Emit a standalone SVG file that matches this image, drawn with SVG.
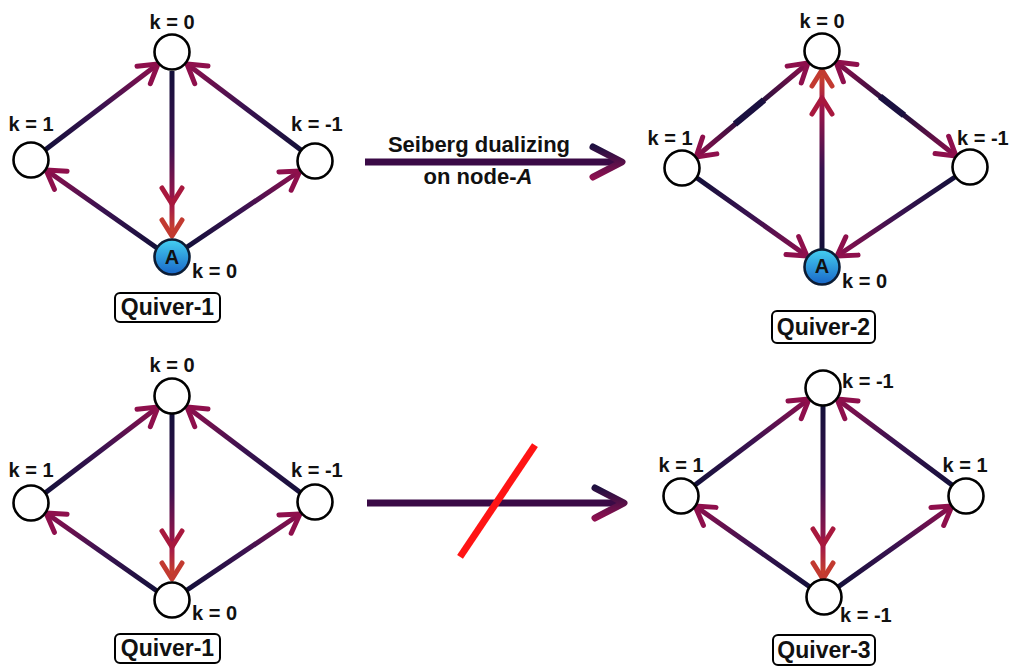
<svg xmlns="http://www.w3.org/2000/svg" width="1013" height="666" viewBox="0 0 1013 666">
  <style>
    .node { fill: #ffffff; stroke: #000000; stroke-width: 2.6; }
    .nodeA { fill: url(#gA); stroke: #0c1c34; stroke-width: 2.6; }
    .edge { fill: none; stroke-width: 5; stroke-linecap: butt; }
    .lbl { font-family: "Liberation Sans", Arial, sans-serif; font-weight: bold; font-size: 20px; fill: #111111; }
    .qname { font-family: "Liberation Sans", Arial, sans-serif; font-weight: bold; font-size: 23px; fill: #111111; text-anchor: middle; }
    .qbox { fill: #ffffff; stroke: #000000; stroke-width: 2; }
    .cap { font-family: "Liberation Sans", Arial, sans-serif; font-weight: bold; font-size: 22px; fill: #111111; text-anchor: middle; }
    .ne { stroke: url(#gNE); }
    .nw { stroke: url(#gNW); }
    .se { stroke: url(#gSE); }
    .sw { stroke: url(#gSW); }
    .one { marker-end: url(#head); }
    .two { marker-mid: url(#headMid); marker-end: url(#headEnd); }
    .both { marker-start: url(#head); marker-end: url(#head); }
  </style>
  <defs>
    <!-- diagonal edge gradients: dark navy at the tail, crimson at the head -->
    <linearGradient id="gNE" x1="0" y1="1" x2="1" y2="0">
      <stop offset="0" stop-color="#14103a"/>
      <stop offset="0.5" stop-color="#3a1250"/>
      <stop offset="1" stop-color="#8e0f4c"/>
    </linearGradient>
    <linearGradient id="gNW" x1="1" y1="1" x2="0" y2="0">
      <stop offset="0" stop-color="#14103a"/>
      <stop offset="0.5" stop-color="#3a1250"/>
      <stop offset="1" stop-color="#8e0f4c"/>
    </linearGradient>
    <linearGradient id="gSE" x1="0" y1="0" x2="1" y2="1">
      <stop offset="0" stop-color="#14103a"/>
      <stop offset="0.5" stop-color="#3a1250"/>
      <stop offset="1" stop-color="#8e0f4c"/>
    </linearGradient>
    <linearGradient id="gSW" x1="1" y1="0" x2="0" y2="1">
      <stop offset="0" stop-color="#14103a"/>
      <stop offset="0.5" stop-color="#3a1250"/>
      <stop offset="1" stop-color="#8e0f4c"/>
    </linearGradient>
    <!-- two-way edges: crimson at both ends, dark in the middle -->
    <linearGradient id="gBothL" x1="1" y1="0" x2="0" y2="1">
      <stop offset="0" stop-color="#8e0f4c"/>
      <stop offset="0.5" stop-color="#14103a"/>
      <stop offset="1" stop-color="#8e0f4c"/>
    </linearGradient>
    <linearGradient id="gBothR" x1="0" y1="0" x2="1" y2="1">
      <stop offset="0" stop-color="#8e0f4c"/>
      <stop offset="0.5" stop-color="#14103a"/>
      <stop offset="1" stop-color="#8e0f4c"/>
    </linearGradient>
    <!-- vertical edges, one gradient per quiver -->
    <linearGradient id="gV1" gradientUnits="userSpaceOnUse" x1="0" y1="71" x2="0" y2="236">
      <stop offset="0" stop-color="#14103a"/>
      <stop offset="0.45" stop-color="#3a1250"/>
      <stop offset="0.8" stop-color="#a0164a"/>
      <stop offset="1" stop-color="#d04a28"/>
    </linearGradient>
    <linearGradient id="gV2" gradientUnits="userSpaceOnUse" x1="0" y1="249" x2="0" y2="70">
      <stop offset="0" stop-color="#14103a"/>
      <stop offset="0.45" stop-color="#3a1250"/>
      <stop offset="0.8" stop-color="#a0164a"/>
      <stop offset="1" stop-color="#d04a28"/>
    </linearGradient>
    <linearGradient id="gV3" gradientUnits="userSpaceOnUse" x1="0" y1="414" x2="0" y2="579">
      <stop offset="0" stop-color="#14103a"/>
      <stop offset="0.45" stop-color="#3a1250"/>
      <stop offset="0.8" stop-color="#a0164a"/>
      <stop offset="1" stop-color="#d04a28"/>
    </linearGradient>
    <linearGradient id="gV4" gradientUnits="userSpaceOnUse" x1="0" y1="406" x2="0" y2="579">
      <stop offset="0" stop-color="#14103a"/>
      <stop offset="0.45" stop-color="#3a1250"/>
      <stop offset="0.8" stop-color="#a0164a"/>
      <stop offset="1" stop-color="#d04a28"/>
    </linearGradient>
    <!-- shaded fill of the dualized node -->
    <linearGradient id="gA" x1="0" y1="0" x2="0" y2="1">
      <stop offset="0" stop-color="#45d0f2"/>
      <stop offset="1" stop-color="#1866c8"/>
    </linearGradient>
    <!-- big transition arrow heads -->
    <linearGradient id="gBig" gradientUnits="userSpaceOnUse" x1="0" y1="146" x2="0" y2="178">
      <stop offset="0" stop-color="#1e1040"/>
      <stop offset="1" stop-color="#8e1050"/>
    </linearGradient>
    <linearGradient id="gBig2" gradientUnits="userSpaceOnUse" x1="0" y1="487" x2="0" y2="519">
      <stop offset="0" stop-color="#1e1040"/>
      <stop offset="1" stop-color="#8e1050"/>
    </linearGradient>
    <!-- open chevron arrowheads -->
    <marker id="head" markerUnits="userSpaceOnUse" viewBox="-22 -14 26 28" refX="0" refY="0" markerWidth="26" markerHeight="28" orient="auto-start-reverse" overflow="visible">
      <path d="M -18 -11 L 0 0 L -18 11" fill="none" stroke="#8e0f4c" stroke-width="5" stroke-linecap="round" stroke-linejoin="round"/>
    </marker>
    <marker id="headMid" markerUnits="userSpaceOnUse" viewBox="-22 -14 26 28" refX="0" refY="0" markerWidth="26" markerHeight="28" orient="auto" overflow="visible">
      <path d="M -16 -10 L 0 0 L -16 10" fill="none" stroke="#a8183e" stroke-width="5" stroke-linecap="round" stroke-linejoin="round"/>
    </marker>
    <marker id="headEnd" markerUnits="userSpaceOnUse" viewBox="-22 -14 26 28" refX="0" refY="0" markerWidth="26" markerHeight="28" orient="auto" overflow="visible">
      <path d="M -16 -10 L 0 0 L -16 10" fill="none" stroke="#c23a30" stroke-width="5" stroke-linecap="round" stroke-linejoin="round"/>
    </marker>
  </defs>

  <rect width="1013" height="666" fill="#ffffff"/>

  <!-- connectors -->
  <g id="connectors">
    <!-- quiver 1 (top left) -->
    <path class="edge ne one" d="M 45 150 L 158 64"/>
    <path class="edge nw one" d="M 301 150 L 187 64"/>
    <path class="edge two" stroke="url(#gV1)" d="M 172 71 L 172 204 L 172 236"/>
    <path class="edge nw one" d="M 157 248 L 46 170"/>
    <path class="edge ne one" d="M 187 247 L 300 171"/>

    <!-- quiver 2 (top right) -->
    <path class="edge both" stroke="url(#gBothL)" d="M 808 63 L 696 157"/>
    <path d="M 764 100 L 735 124" stroke="#1a1040" stroke-width="6.5"/>
    <path class="edge both" stroke="url(#gBothR)" d="M 836 62 L 956 156"/>
    <path d="M 880 96.5 L 904 115.3" stroke="#1a1040" stroke-width="6.5"/>
    <path class="edge two" stroke="url(#gV2)" d="M 822 249 L 822 98 L 822 70"/>
    <path class="edge se one" d="M 697 178 L 807 256"/>
    <path class="edge sw one" d="M 955 177 L 837 256"/>

    <!-- quiver 1 (bottom left) -->
    <path class="edge ne one" d="M 45 493 L 158 407"/>
    <path class="edge nw one" d="M 301 493 L 187 407"/>
    <path class="edge two" stroke="url(#gV3)" d="M 172 414 L 172 547 L 172 579"/>
    <path class="edge nw one" d="M 157 591 L 46 513"/>
    <path class="edge ne one" d="M 187 590 L 300 514"/>

    <!-- quiver 3 (bottom right) -->
    <path class="edge ne one" d="M 695 485 L 809 399"/>
    <path class="edge nw one" d="M 952 485 L 837 399"/>
    <path class="edge two" stroke="url(#gV4)" d="M 823 406 L 823 545 L 823 579"/>
    <path class="edge nw one" d="M 810 587 L 695 506"/>
    <path class="edge ne one" d="M 838 587 L 952 506"/>

    <!-- transition arrows -->
    <path d="M 365 162 L 618 162" stroke="#3a0a46" stroke-width="7"/>
    <path d="M 593 147 L 622 162 L 593 177" fill="none" stroke="url(#gBig)" stroke-width="7" stroke-linecap="round" stroke-linejoin="round"/>
    <path d="M 367 503 L 620 503" stroke="#3a0a46" stroke-width="7"/>
    <path d="M 595 488 L 624 503 L 595 518" fill="none" stroke="url(#gBig2)" stroke-width="7" stroke-linecap="round" stroke-linejoin="round"/>
    <path d="M 533 448 L 462 554" stroke="#ff1414" stroke-width="7" stroke-linecap="square"/>
  </g>

  <!-- transition caption -->
  <g id="caption">
    <text class="cap" x="479" y="152">Seiberg dualizing</text>
    <text class="cap" x="478" y="184">on node-<tspan font-style="italic">A</tspan></text>
  </g>

  <!-- quiver 1, top -->
  <g id="q1-top">
    <g id="q1-n-top"><circle class="node" cx="172" cy="52" r="17.5"/><text class="lbl" x="172" y="29" text-anchor="middle">k = 0</text></g>
    <g id="q1-n-left"><circle class="node" cx="31" cy="160" r="17.5"/><text class="lbl" x="31" y="131" text-anchor="middle">k = 1</text></g>
    <g id="q1-n-right"><circle class="node" cx="315" cy="161" r="17.5"/><text class="lbl" x="291" y="131">k = -1</text></g>
    <g id="q1-n-A"><circle class="nodeA" cx="172" cy="257" r="17.5"/><text class="lbl" x="172" y="264" text-anchor="middle" fill="#14204a" font-size="18">A</text><text class="lbl" x="192" y="278">k = 0</text></g>
    <g id="q1-name"><rect class="qbox" x="115" y="293" width="105" height="29" rx="5"/><text class="qname" x="167.5" y="315">Quiver-1</text></g>
  </g>

  <!-- quiver 2, top -->
  <g id="q2">
    <g id="q2-n-top"><circle class="node" cx="822" cy="51" r="17.5"/><text class="lbl" x="822" y="28" text-anchor="middle">k = 0</text></g>
    <g id="q2-n-left"><circle class="node" cx="682" cy="168" r="17.5"/><text class="lbl" x="670" y="145" text-anchor="middle">k = 1</text></g>
    <g id="q2-n-right"><circle class="node" cx="970" cy="167" r="17.5"/><text class="lbl" x="957" y="145">k = -1</text></g>
    <g id="q2-n-A"><circle class="nodeA" cx="822" cy="267" r="17.5"/><text class="lbl" x="822" y="273" text-anchor="middle" fill="#14204a" font-size="18">A</text><text class="lbl" x="842" y="288">k = 0</text></g>
    <g id="q2-name"><rect class="qbox" x="772" y="311" width="103" height="32" rx="5"/><text class="qname" x="823.5" y="335">Quiver-2</text></g>
  </g>

  <!-- quiver 1, bottom -->
  <g id="q1-bottom">
    <g id="q1b-n-top"><circle class="node" cx="172" cy="396" r="17.5"/><text class="lbl" x="172" y="372" text-anchor="middle">k = 0</text></g>
    <g id="q1b-n-left"><circle class="node" cx="31" cy="503" r="17.5"/><text class="lbl" x="31" y="477" text-anchor="middle">k = 1</text></g>
    <g id="q1b-n-right"><circle class="node" cx="315" cy="502" r="17.5"/><text class="lbl" x="291" y="477">k = -1</text></g>
    <g id="q1b-n-bottom"><circle class="node" cx="172" cy="600" r="17.5"/><text class="lbl" x="192" y="620">k = 0</text></g>
    <g id="q1b-name"><rect class="qbox" x="115" y="634" width="105" height="29" rx="5"/><text class="qname" x="167.5" y="656">Quiver-1</text></g>
  </g>

  <!-- quiver 3 -->
  <g id="q3">
    <g id="q3-n-top"><circle class="node" cx="823" cy="388" r="17.5"/><text class="lbl" x="842" y="388">k = -1</text></g>
    <g id="q3-n-left"><circle class="node" cx="681" cy="496" r="17.5"/><text class="lbl" x="681" y="472" text-anchor="middle">k = 1</text></g>
    <g id="q3-n-right"><circle class="node" cx="966" cy="496" r="17.5"/><text class="lbl" x="965" y="472" text-anchor="middle">k = 1</text></g>
    <g id="q3-n-bottom"><circle class="node" cx="824" cy="597" r="17.5"/><text class="lbl" x="840" y="622">k = -1</text></g>
    <g id="q3-name"><rect class="qbox" x="773" y="635" width="102" height="30" rx="5"/><text class="qname" x="824" y="658">Quiver-3</text></g>
  </g>
</svg>
